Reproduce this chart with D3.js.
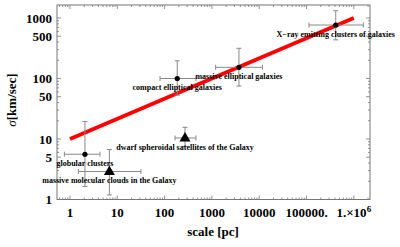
<!DOCTYPE html>
<html><head><meta charset="utf-8">
<script src="https://cdn.jsdelivr.net/npm/d3@7"></script>
<style>body{margin:0;background:#fff}svg{display:block}</style>
</head><body>
<svg id="c" width="400" height="247"></svg>
<script>
const names = ["globular clusters","massive molecular clouds in the Galaxy","dwarf spheroidal satellites of the Galaxy","compact elliptical galaxies","massive elliptical galaxies","X\u2212ray emitting clusters of galaxies"];
const scaleVals = [2.07, 6.8, 270, 185, 3730, 415000];
const sigmaVals = [5.6, 2.9, 10.4, 100, 153, 766];
const scaleLo = [0.76, 1.5, 166, 80, 1200, 113000];
const scaleHi = [4.3, 31.6, 460, 460, 11700, 1590000];
const sigmaLo = [1.64, 1.19, 7.5, 53, 75, 435];
const sigmaHi = [19.5, 6.7, 15.6, 196, 316, 1320];
const markers = ["circle","triangle","triangle","circle","circle","circle"];
const fitX = [1, 1e6];
const fitY = [10, 1000];
const xTickVals = [1,10,100,1000,10000,100000,1000000];
const xTickLabels = ["1","10","100","1000","10000","100000.","1.\u00d710^6"];
const yTickVals = [1,5,10,50,100,500,1000];
const yTickLabels = ["1","5","10","50","100","500","1000"];

const svg = d3.select("#c");
const L=57,R=370,T=5,B=199.5;
const x = d3.scaleLog().domain([0.531, 2.2e6]).range([L,R]);
const y = d3.scaleLog().domain([1, 1640]).range([B,T]);
const serif = "'Liberation Serif','Times New Roman',serif";
const frameCol="#777";

// frame
svg.append("rect").attr("x",L).attr("y",T).attr("width",R-L).attr("height",B-T)
  .attr("fill","none").attr("stroke",frameCol).attr("stroke-width",1);

// minor/major ticks
const xMinor=[], yMinor=[];
for(let e=-1;e<=6;e++) for(let m=1;m<10;m++){const v=m*Math.pow(10,e); if(v>=x.domain()[0]&&v<=x.domain()[1]) xMinor.push(v);}
for(let e=0;e<=3;e++) for(let m=1;m<10;m++){const v=m*Math.pow(10,e); if(v>=y.domain()[0]&&v<=y.domain()[1]) yMinor.push(v);}
const tk = svg.append("g").attr("stroke",frameCol).attr("stroke-width",0.8);
xMinor.forEach(v=>{const maj=xTickVals.includes(v); const len=maj?4:2; const px=x(v);
  tk.append("line").attr("x1",px).attr("x2",px).attr("y1",B).attr("y2",B-len);
  tk.append("line").attr("x1",px).attr("x2",px).attr("y1",T).attr("y2",T+len);});
yMinor.forEach(v=>{const maj=yTickVals.includes(v); const len=maj?4:2; const py=y(v);
  tk.append("line").attr("y1",py).attr("y2",py).attr("x1",L).attr("x2",L+len);
  tk.append("line").attr("y1",py).attr("y2",py).attr("x1",R).attr("x2",R-len);});

// tick labels
xTickVals.forEach((v,i)=>{
  const t = svg.append("text").attr("x",x(v)).attr("y",217).attr("text-anchor","middle")
    .attr("font-family",serif).attr("font-weight","bold").attr("font-size",13).attr("fill","#000");
  const lab = xTickLabels[i];
  if(lab.includes("^")){const [a,b]=lab.split("^"); t.text(a); t.append("tspan").attr("dy",-5).attr("font-size",9).text(b);}
  else t.text(lab);
});
yTickVals.forEach((v,i)=>{
  svg.append("text").attr("x",52).attr("y",y(v)).attr("dy","0.35em").attr("text-anchor","end")
    .attr("font-family",serif).attr("font-weight","bold").attr("font-size",13).attr("fill","#000").text(yTickLabels[i]);
});

// axis titles
svg.append("text").attr("x",213).attr("y",236).attr("text-anchor","middle")
  .attr("font-family",serif).attr("font-weight","bold").attr("font-size",13).text("scale [pc]");
const yt = svg.append("text").attr("transform","translate(16,100) rotate(-90)").attr("text-anchor","middle")
  .attr("font-family",serif).attr("font-size",13);
yt.append("tspan").attr("font-style","italic").text("\u03c3");
yt.append("tspan").attr("font-weight","bold").text("[km/sec]");

// fit line
svg.append("line").attr("x1",x(fitX[0])).attr("y1",y(fitY[0])).attr("x2",x(fitX[1])).attr("y2",y(fitY[1]))
  .attr("stroke","#f00").attr("stroke-width",4);

// error bars
const eb = svg.append("g").attr("stroke","#888").attr("stroke-width",1);
const cap=2.5;
names.forEach((n,i)=>{
  const px=x(scaleVals[i]), py=y(sigmaVals[i]);
  eb.append("line").attr("x1",x(scaleLo[i])).attr("x2",x(scaleHi[i])).attr("y1",py).attr("y2",py);
  eb.append("line").attr("x1",x(scaleLo[i])).attr("x2",x(scaleLo[i])).attr("y1",py-cap).attr("y2",py+cap);
  eb.append("line").attr("x1",x(scaleHi[i])).attr("x2",x(scaleHi[i])).attr("y1",py-cap).attr("y2",py+cap);
  eb.append("line").attr("x1",px).attr("x2",px).attr("y1",y(sigmaLo[i])).attr("y2",y(sigmaHi[i]));
  eb.append("line").attr("x1",px-cap).attr("x2",px+cap).attr("y1",y(sigmaLo[i])).attr("y2",y(sigmaLo[i]));
  eb.append("line").attr("x1",px-cap).attr("x2",px+cap).attr("y1",y(sigmaHi[i])).attr("y2",y(sigmaHi[i]));
});

// markers
names.forEach((n,i)=>{
  const px=x(scaleVals[i]), py=y(sigmaVals[i]);
  if(markers[i]==="circle") svg.append("circle").attr("cx",px).attr("cy",py).attr("r",2.6).attr("fill","#000");
  else svg.append("path").attr("d",`M${px},${py-6}L${px+5.5},${py+3.5}L${px-5.5},${py+3.5}Z`).attr("fill","#000");
});

// labels
names.forEach((n,i)=>{
  svg.append("text").attr("x",x(scaleVals[i])).attr("y",y(sigmaVals[i])+9).attr("dy","0.35em")
    .attr("text-anchor","middle").attr("font-family",serif).attr("font-weight","bold").attr("font-size",8).attr("fill","#000").text(n);
});
</script>
</body></html>
